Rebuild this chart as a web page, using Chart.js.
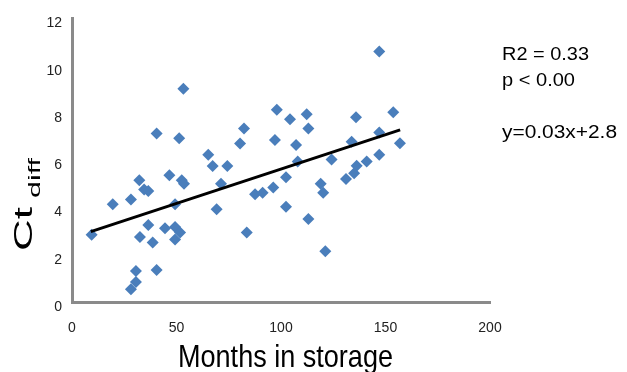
<!DOCTYPE html>
<html><head><meta charset="utf-8">
<script src="https://cdn.jsdelivr.net/npm/chart.js@4"></script>
<style>html,body{margin:0;padding:0;background:#fff;}canvas{display:block;}</style>
</head><body>
<canvas id="c" width="627" height="372"></canvas>
<script>
const monthsInStorage = [9.4,19.5,28.2,32.2,34.5,36.5,46.6,52.5,53.6,49.3,36.5,32.5,38.6,44.5,49.3,51.7,49.3,30.6,30.6,28.2,40.5,65.2,67.3,74.3,71.3,69.2,83.6,87.6,91.2,96.3,53.3,40.5,51.3,82.3,80.4,98,97.1,104.3,112.3,113.1,107.2,108,124.2,135.9,147,153.7,147,133.8,156.9,147,141,136.2,135,131.1,102.4,119,120.2,102.4,113.1,121.2];
const ctDiff = [2.85,4.14,4.34,5.15,4.76,4.7,5.36,5.15,5.0,4.14,3.26,2.75,2.52,3.12,3.17,2.94,2.64,1.31,0.85,0.54,1.35,6.23,5.75,5.75,5.0,3.92,2.94,4.56,4.62,4.84,9.02,7.13,6.93,7.34,6.71,8.13,6.85,7.73,7.94,7.34,6.64,5.95,6.03,7.82,10.6,8.03,7.17,6.78,6.72,6.23,5.94,5.77,5.45,5.2,5.28,5.0,4.62,4.03,3.51,2.15];
const trendX = [9, 157];
const trendY = [2.98, 7.28];
const xTicks = [0, 50, 100, 150, 200];
const yTicks = [0, 2, 4, 6, 8, 10, 12];
const statLines = ['R2 = 0.33', 'p < 0.00', 'y=0.03x+2.8'];
const xTitle = 'Months in storage';
const yTitleMain = 'Ct';
const yTitleSub = 'diff';

const FONT = "'Liberation Sans', Arial, sans-serif";

function stretchText(ctx, text, size, x, y, w) {
  ctx.save();
  ctx.font = size + 'px ' + FONT;
  const m = ctx.measureText(text).width;
  ctx.translate(x, y);
  ctx.scale(w / m, 1);
  ctx.fillText(text, 0, 0);
  ctx.restore();
}

const textPlugin = {
  id: 'texts',
  afterDraw(chart) {
    const ctx = chart.ctx;
    ctx.save();
    ctx.fillStyle = '#000';
    ctx.textAlign = 'left';
    ctx.textBaseline = 'alphabetic';
    // x title
    stretchText(ctx, xTitle, 32, 178, 367, 215);
    // stats
    stretchText(ctx, statLines[0], 18, 502, 60, 87);
    stretchText(ctx, statLines[1], 18, 502, 86, 73);
    stretchText(ctx, statLines[2], 18, 502, 138, 115);
    // y title rotated
    ctx.translate(32, 251);
    ctx.rotate(-Math.PI / 2);
    stretchText(ctx, yTitleMain, 26, 0, 0, 44);
    stretchText(ctx, yTitleSub, 16, 53, 8, 40);
    ctx.restore();
  }
};

new Chart(document.getElementById('c'), {
  type: 'scatter',
  data: {
    datasets: [
      {
        data: monthsInStorage.map((x, i) => ({x: x, y: ctDiff[i]})),
        pointStyle: 'rectRot',
        pointRadius: 6,
        pointHoverRadius: 6,
        backgroundColor: '#4A7EBB',
        borderColor: '#4A7EBB',
        borderWidth: 0,
        order: 2
      },
      {
        data: trendX.map((x, i) => ({x: x, y: trendY[i]})),
        showLine: true,
        borderColor: '#000',
        borderWidth: 3,
        pointRadius: 0,
        fill: false,
        order: 1
      }
    ]
  },
  options: {
    responsive: false,
    animation: false,
    devicePixelRatio: 1,
    layout: {padding: {top: 18, right: 137, left: 0, bottom: 0}},
    plugins: {legend: {display: false}, tooltip: {enabled: false}},
    scales: {
      x: {
        type: 'linear', min: 0, max: 200,
        afterBuildTicks: s => { s.ticks = xTicks.map(v => ({value: v})); },
        afterFit: s => { s.height = 70; },
        grid: {display: false, drawTicks: false},
        border: {display: true, color: '#8a8a8a', width: 3},
        ticks: {font: {family: FONT, size: 14}, color: '#222', padding: 18, maxRotation: 0}
      },
      y: {
        type: 'linear', min: 0, max: 12,
        afterBuildTicks: s => { s.ticks = yTicks.map(v => ({value: v})); },
        afterFit: s => { s.width = 72; },
        grid: {display: false, drawTicks: false},
        border: {display: true, color: '#8a8a8a', width: 3},
        ticks: {font: {family: FONT, size: 14}, color: '#222', padding: 10, labelOffset: 5}
      }
    }
  },
  plugins: [textPlugin]
});
</script>
</body></html>
